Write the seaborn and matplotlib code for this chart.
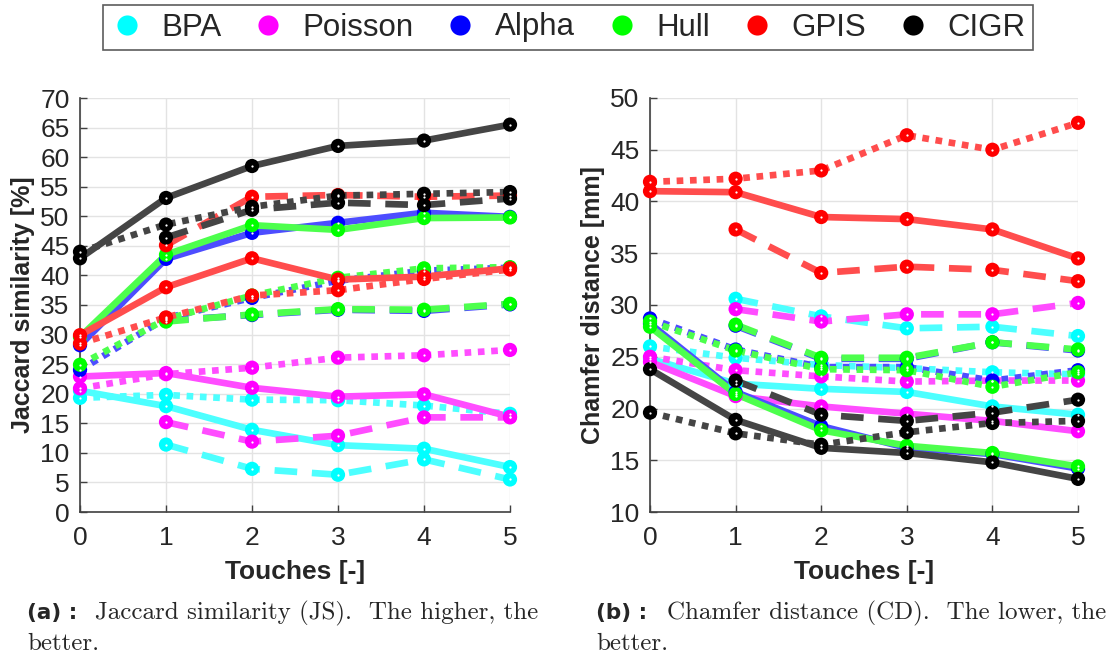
import numpy as np
import pandas as pd
import matplotlib
matplotlib.use("Agg")
import matplotlib.pyplot as plt
from matplotlib.lines import Line2D
import seaborn as sns

nan = np.nan
touches = [0, 1, 2, 3, 4, 5]
methods = ["BPA", "Poisson", "Alpha", "Hull", "GPIS", "CIGR"]
colors = ["#00ffff", "#ff00ff", "#0000ff", "#00ff00", "#ff0000", "#000000"]

# Jaccard similarity [%]  (solid / dashed / dotted)
js_bpa_solid = [20.5, 17.9, 13.9, 11.3, 10.7, 7.6]
js_bpa_dashed = [nan, 11.4, 7.3, 6.3, 8.9, 5.5]
js_bpa_dotted = [19.3, 19.8, 19.0, 18.9, 18.0, 16.6]
js_poisson_solid = [22.9, 23.5, 21.0, 19.5, 19.9, 16.1]
js_poisson_dashed = [nan, 15.2, 11.9, 12.9, 16.0, 16.0]
js_poisson_dotted = [20.9, 23.3, 24.4, 26.1, 26.5, 27.4]
js_alpha_solid = [28.2, 42.8, 47.2, 48.9, 50.6, 49.9]
js_alpha_dashed = [nan, 32.4, 33.3, 34.2, 34.0, 35.1]
js_alpha_dotted = [24.0, 32.8, 36.2, 39.1, 40.8, 41.3]
js_hull_solid = [29.6, 43.5, 48.5, 47.7, 49.7, 49.8]
js_hull_dashed = [nan, 32.2, 33.4, 34.3, 34.2, 35.2]
js_hull_dotted = [24.9, 32.6, 36.6, 39.6, 41.2, 41.4]
js_gpis_solid = [29.9, 38.0, 42.9, 39.3, 39.8, 41.2]
js_gpis_dashed = [nan, 45.1, 53.3, 53.6, 53.3, 53.5]
js_gpis_dotted = [28.5, 32.9, 36.6, 37.5, 39.4, 41.0]
js_cigr_solid = [42.9, 53.1, 58.5, 61.9, 62.8, 65.5]
js_cigr_dashed = [nan, 46.4, 51.1, 52.3, 51.9, 53.0]
js_cigr_dotted = [44.0, 48.6, 51.6, 53.5, 53.8, 54.1]

# Chamfer distance [mm]
cd_bpa_solid = [24.8, 22.4, 21.9, 21.6, 20.2, 19.4]
cd_bpa_dashed = [nan, 30.6, 28.9, 27.75, 27.9, 27.0]
cd_bpa_dotted = [26.0, 24.9, 24.2, 23.9, 23.5, 23.3]
cd_poisson_solid = [24.5, 21.2, 20.2, 19.5, 18.8, 17.8]
cd_poisson_dashed = [nan, 29.6, 28.4, 29.1, 29.1, 30.2]
cd_poisson_dotted = [25.0, 23.7, 23.1, 22.6, 22.7, 22.7]
cd_alpha_solid = [28.2, 21.6, 18.3, 16.2, 15.6, 14.2]
cd_alpha_dashed = [nan, 28.0, 24.8, 24.8, 26.4, 25.6]
cd_alpha_dotted = [28.7, 25.7, 24.0, 24.0, 22.7, 23.7]
cd_hull_solid = [27.9, 21.4, 17.9, 16.4, 15.7, 14.4]
cd_hull_dashed = [nan, 28.1, 24.9, 24.9, 26.4, 25.7]
cd_hull_dotted = [28.4, 25.6, 23.8, 23.7, 22.1, 23.5]
cd_gpis_solid = [41.0, 40.9, 38.5, 38.3, 37.3, 34.5]
cd_gpis_dashed = [nan, 37.3, 33.1, 33.7, 33.4, 32.3]
cd_gpis_dotted = [41.9, 42.2, 43.0, 46.4, 45.0, 47.6]
cd_cigr_solid = [23.8, 18.9, 16.2, 15.7, 14.8, 13.2]
cd_cigr_dashed = [nan, 22.7, 19.4, 18.8, 19.6, 20.85]
cd_cigr_dotted = [19.6, 17.6, 16.5, 17.7, 18.6, 18.8]

js_yticks = list(range(0, 71, 5))
cd_yticks = list(range(10, 51, 5))

js = {
    "BPA": (js_bpa_solid, js_bpa_dashed, js_bpa_dotted),
    "Poisson": (js_poisson_solid, js_poisson_dashed, js_poisson_dotted),
    "Alpha": (js_alpha_solid, js_alpha_dashed, js_alpha_dotted),
    "Hull": (js_hull_solid, js_hull_dashed, js_hull_dotted),
    "GPIS": (js_gpis_solid, js_gpis_dashed, js_gpis_dotted),
    "CIGR": (js_cigr_solid, js_cigr_dashed, js_cigr_dotted),
}
cd = {
    "BPA": (cd_bpa_solid, cd_bpa_dashed, cd_bpa_dotted),
    "Poisson": (cd_poisson_solid, cd_poisson_dashed, cd_poisson_dotted),
    "Alpha": (cd_alpha_solid, cd_alpha_dashed, cd_alpha_dotted),
    "Hull": (cd_hull_solid, cd_hull_dashed, cd_hull_dotted),
    "GPIS": (cd_gpis_solid, cd_gpis_dashed, cd_gpis_dotted),
    "CIGR": (cd_cigr_solid, cd_cigr_dashed, cd_cigr_dotted),
}

sns.set_theme(style="whitegrid")
plt.rcParams["font.family"] = ["Liberation Sans", "DejaVu Sans"]

W, H = 1117, 657
fig = plt.figure(figsize=(W / 100, H / 100), dpi=100)

styles = ["solid", (0, (3.4, 2.2)), (0, (1, 1))]
LW = 4.8
tick_col = "#262626"


def draw(ax, data, yticks, ylabel):
    for m, c in zip(methods, colors):
        rgb = matplotlib.colors.to_rgb(c)
        lc = tuple(0.3 + 0.7 * v for v in rgb) if c != "#000000" else (0.27, 0.27, 0.27)
        for vals, ls in zip(data[m], styles):
            df = pd.DataFrame({"t": touches, "v": vals}).dropna()
            sns.lineplot(data=df, x="t", y="v", ax=ax, color=lc, linewidth=LW,
                         linestyle=ls, legend=False, zorder=2,
                         dash_capstyle="butt")
            sns.scatterplot(data=df, x="t", y="v", ax=ax, color=c, s=105,
                            edgecolor="none", linewidth=0, legend=False, zorder=3)
            ax.plot(df["t"], df["v"], linestyle="none", marker="o",
                    markersize=1.6, markeredgewidth=0, color="white", zorder=4)
    ax.set_xlim(0, 5)
    ax.set_ylim(yticks[0], yticks[-1])
    ax.set_xticks(touches)
    ax.set_yticks(yticks)
    ax.grid(True, color="#e3e3e3", linewidth=1.0)
    for s in ["top", "right"]:
        ax.spines[s].set_visible(False)
    for s in ["left", "bottom"]:
        ax.spines[s].set_visible(True)
        ax.spines[s].set_color("#404040")
        ax.spines[s].set_linewidth(1.2)
    ax.tick_params(axis="both", direction="in", length=5, width=1.0,
                   color="#404040", labelsize=19, labelcolor=tick_col,
                   left=True, bottom=True)
    ax.tick_params(axis="x", pad=10)
    ax.tick_params(axis="y", pad=7.5)
    ax.set_xlabel("Touches [-]", fontsize=19, fontweight="bold", color=tick_col,
                  labelpad=7)
    ax.set_ylabel(ylabel, fontsize=18, fontweight="bold", color=tick_col,
                  labelpad=4)
    ax.set_facecolor("white")
    ax.margins(0)
    for a in ax.collections + ax.lines:
        a.set_clip_on(False)


ax1 = fig.add_axes([80 / W, 1 - 512 / H, 430 / W, 414 / H])
ax2 = fig.add_axes([650 / W, 1 - 512 / H, 428 / W, 414 / H])
draw(ax1, js, js_yticks, "Jaccard similarity [%]")
draw(ax2, cd, cd_yticks, "Chamfer distance [mm]")

handles = [Line2D([], [], linestyle="none", marker="o", markersize=14.5,
                  markerfacecolor=c, markeredgecolor="none") for c in colors]
leg = fig.legend(handles, methods, loc="center", bbox_to_anchor=(568 / W, 1 - 27.5 / H),
                 ncol=6, frameon=True, fancybox=False, fontsize=22.5,
                 handlelength=1.0, handletextpad=0.6, columnspacing=1.0,
                 borderpad=0.25, edgecolor="#333333")
leg.get_frame().set_linewidth(1.2)

cap_font = "cmr10"
cap_size = 18
fig.text(27 / W, 1 - 619 / H, "(a) :", fontsize=15.5, fontweight="bold",
         family="DejaVu Sans", va="baseline")
fig.text(95 / W, 1 - 619 / H, "Jaccard similarity (JS).  The higher, the",
         fontsize=cap_size, family=cap_font, va="baseline")
fig.text(27 / W, 1 - 650 / H, "better.", fontsize=cap_size, family=cap_font, va="baseline")
fig.text(596 / W, 1 - 619 / H, "(b) :", fontsize=15.5, fontweight="bold",
         family="DejaVu Sans", va="baseline")
fig.text(667 / W, 1 - 619 / H, "Chamfer distance (CD).  The lower, the",
         fontsize=cap_size, family=cap_font, va="baseline")
fig.text(596 / W, 1 - 650 / H, "better.", fontsize=cap_size, family=cap_font, va="baseline")

fig.savefig("out.png", dpi=100, facecolor="white")
